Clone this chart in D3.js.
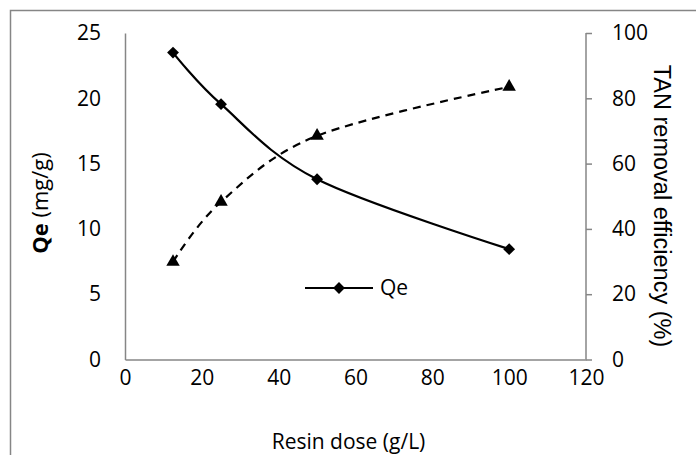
<!DOCTYPE html>
<html lang="en">
<head>
    <meta charset="UTF-8">
    <title>Qe and TAN removal efficiency vs resin dose</title>
    <style>
        body, html {
            margin: 0;
            padding: 0;
            background: #fff;
        }
        svg text {
            font-family: "Open Sans", Arial, sans-serif;
            fill: #000;
        }
        .tick text {
            font-size: 21px;
        }
        .axis-title {
            font-size: 21px;
        }
        .right-title {
            font-family: "Liberation Sans", Arial, sans-serif;
            font-size: 23.5px;
        }
    </style>
    <script src="https://d3js.org/d3.v7.min.js"></script>
</head>
<body>
    <div id="chart"></div>
    <script>
        // data
        const resinDose = [12.5, 25, 50, 100];
        const qe = [23.5, 19.55, 13.8, 8.45];
        const tanRemoval = [29.9, 48.3, 68.5, 83.5];
        const xTicks = [0, 20, 40, 60, 80, 100, 120];
        const leftTicks = [0, 5, 10, 15, 20, 25];
        const rightTicks = [0, 20, 40, 60, 80, 100];

        const width = 696, height = 455;
        const margin = { top: 33, right: 110, bottom: 95.5, left: 125 };
        const innerW = width - margin.left - margin.right;
        const innerH = height - margin.top - margin.bottom;
        const axisColor = "#868686";

        const svg = d3.select("#chart").append("svg")
            .attr("width", width)
            .attr("height", height);

        // outer chart border
        svg.append("rect")
            .attr("x", 10.5)
            .attr("y", 10.5)
            .attr("width", 700)
            .attr("height", 470)
            .attr("fill", "none")
            .attr("stroke", axisColor)
            .attr("stroke-width", 1.5);

        const g = svg.append("g")
            .attr("transform", `translate(${margin.left}, ${margin.top})`);

        const x = d3.scaleLinear().domain([0, 120]).range([0, innerW]);
        const yLeft = d3.scaleLinear().domain([0, 25]).range([innerH, 0]);
        const yRight = d3.scaleLinear().domain([0, 100]).range([innerH, 0]);

        // axes
        const xAxis = g.append("g")
            .attr("transform", `translate(0, ${innerH})`)
            .call(d3.axisBottom(x).tickValues(xTicks).tickSize(0).tickPadding(8));
        const leftAxis = g.append("g")
            .call(d3.axisLeft(yLeft).tickValues(leftTicks).tickSize(0).tickPadding(24));
        const rightAxis = g.append("g")
            .attr("transform", `translate(${innerW}, 0)`)
            .call(d3.axisRight(yRight).tickValues(rightTicks).tickSize(6).tickPadding(20));

        [xAxis, leftAxis, rightAxis].forEach(a => {
            a.select(".domain").attr("stroke", axisColor).attr("stroke-width", 1.5);
            a.selectAll(".tick line").attr("stroke", axisColor).attr("stroke-width", 1.5);
            a.selectAll(".tick text").attr("fill", "#000");
        });
        xAxis.selectAll(".tick text").attr("dy", "0.85em");
        rightAxis.select(".domain").attr("d", `M0,${innerH}V0`);

        // axis titles
        svg.append("text")
            .attr("class", "axis-title")
            .attr("x", margin.left + innerW / 2 - 7)
            .attr("y", 442)
            .attr("dy", "0.35em")
            .attr("text-anchor", "middle")
            .text("Resin dose (g/L)");

        const leftTitle = svg.append("text")
            .attr("class", "axis-title")
            .attr("transform", "translate(40, 203) rotate(-90)")
            .attr("dy", "0.35em")
            .attr("text-anchor", "middle")
            .style("font-size", "22px");
        leftTitle.append("tspan").attr("font-weight", "bold").text("Qe ");
        leftTitle.append("tspan").text("(mg/g)");

        svg.append("text")
            .attr("class", "right-title")
            .attr("transform", "translate(662, 206) rotate(90)")
            .attr("dy", "0.35em")
            .attr("text-anchor", "middle")
            .text("TAN removal efficiency (%)");

        // series
        const qeLine = d3.line()
            .x((d, i) => x(resinDose[i]))
            .y(d => yLeft(d))
            .curve(d3.curveCatmullRom.alpha(0));
        const tanLine = d3.line()
            .x((d, i) => x(resinDose[i]))
            .y(d => yRight(d))
            .curve(d3.curveCatmullRom.alpha(0));

        g.append("path")
            .datum(tanRemoval)
            .attr("d", tanLine)
            .attr("fill", "none")
            .attr("stroke", "#000")
            .attr("stroke-width", 2.2)
            .attr("stroke-dasharray", "8,6");

        g.append("path")
            .datum(qe)
            .attr("d", qeLine)
            .attr("fill", "none")
            .attr("stroke", "#000")
            .attr("stroke-width", 2.2);

        const diamond = d3.symbol().type(d3.symbolSquare).size(70);
        const triangle = d3.symbol().type(d3.symbolTriangle).size(78);

        g.selectAll(".qe-pt")
            .data(qe)
            .enter().append("path")
            .attr("class", "qe-pt")
            .attr("d", diamond)
            .attr("transform", (d, i) => `translate(${x(resinDose[i])}, ${yLeft(d)}) rotate(45)`)
            .attr("fill", "#000");

        g.selectAll(".tan-pt")
            .data(tanRemoval)
            .enter().append("path")
            .attr("class", "tan-pt")
            .attr("d", triangle)
            .attr("transform", (d, i) => `translate(${x(resinDose[i])}, ${yRight(d)})`)
            .attr("fill", "#000");

        // legend
        const legend = svg.append("g")
            .attr("transform", "translate(305, 288)");
        legend.append("line")
            .attr("x1", 0).attr("x2", 68)
            .attr("stroke", "#000")
            .attr("stroke-width", 2.2);
        legend.append("path")
            .attr("d", diamond)
            .attr("transform", "translate(34, 0) rotate(45)")
            .attr("fill", "#000");
        legend.append("text")
            .attr("class", "axis-title")
            .attr("x", 75)
            .attr("dy", "0.35em")
            .text("Qe");
    </script>
</body>
</html>
